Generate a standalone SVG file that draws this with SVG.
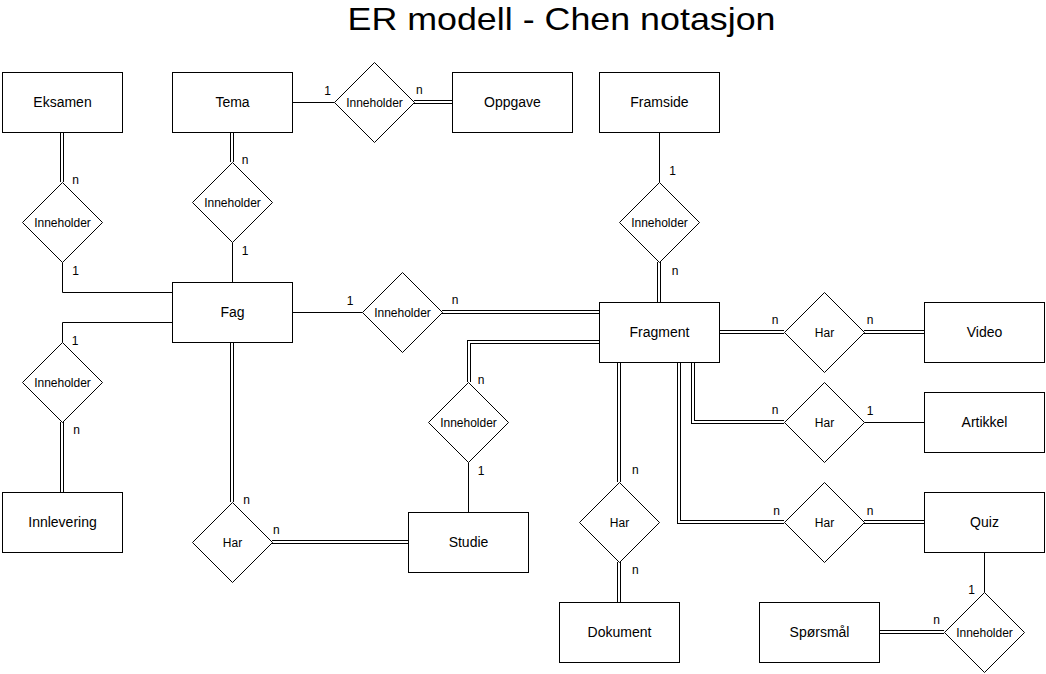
<svg xmlns="http://www.w3.org/2000/svg" width="1046" height="674" viewBox="0 0 1046 674">
<style>
  text { font-family: "Liberation Sans", Arial, Helvetica, sans-serif; fill: #000; }
  .ent rect { fill: #fff; stroke: #000; stroke-width: 1; }
  .rel polygon { fill: #fff; stroke: #000; stroke-width: 1; }
  .ent text { font-size: 14px; text-anchor: middle; }
  .rel text { font-size: 12px; text-anchor: middle; }
  .single { fill: none; stroke: #000; stroke-width: 1; }
  .dbl-o { fill: none; stroke: #000; stroke-width: 4; }
  .dbl-i { fill: none; stroke: #fff; stroke-width: 2; }
  .card { font-size: 12px; text-anchor: middle; }
  .title { font-size: 32px; text-anchor: middle; }
</style>
<rect x="0" y="0" width="1046" height="674" fill="#fff"/>
<text class="title" x="561.5" y="29.5" textLength="428" lengthAdjust="spacingAndGlyphs">ER modell - Chen notasjon</text>

<g id="connectors">
  <g id="single-lines">
    <path class="single" d="M62.5,262.5 V292.5 H172.5"/>
    <path class="single" d="M232.5,242.5 V282.5"/>
    <path class="single" d="M292.5,102.5 H334.5"/>
    <path class="single" d="M659.5,132.5 V182.5"/>
    <path class="single" d="M292.5,312.5 H362.5"/>
    <path class="single" d="M468.5,462.5 V512.5"/>
    <path class="single" d="M172.5,322.5 H62.5 V342.5"/>
    <path class="single" d="M864.5,422.5 H924.5"/>
    <path class="single" d="M984.5,552.5 V592.5"/>
  </g>
  <g id="double-lines">
    <path class="dbl-o" d="M62,132 V182"/><path class="dbl-i" d="M62,132 V182"/>
    <path class="dbl-o" d="M232,132 V162"/><path class="dbl-i" d="M232,132 V162"/>
    <path class="dbl-o" d="M414,102 H453"/><path class="dbl-i" d="M414,102 H453"/>
    <path class="dbl-o" d="M659,262 V303"/><path class="dbl-i" d="M659,262 V303"/>
    <path class="dbl-o" d="M442,312 H600"/><path class="dbl-i" d="M442,312 H600"/>
    <path class="dbl-o" d="M600,342 H469 V382"/><path class="dbl-i" d="M600,342 H469 V382"/>
    <path class="dbl-o" d="M232,342 V502"/><path class="dbl-i" d="M232,342 V502"/>
    <path class="dbl-o" d="M272,542 H409"/><path class="dbl-i" d="M272,542 H409"/>
    <path class="dbl-o" d="M62,422 V493"/><path class="dbl-i" d="M62,422 V493"/>
    <path class="dbl-o" d="M719,332 H784"/><path class="dbl-i" d="M719,332 H784"/>
    <path class="dbl-o" d="M864,332 H925"/><path class="dbl-i" d="M864,332 H925"/>
    <path class="dbl-o" d="M693,362 V422 H784"/><path class="dbl-i" d="M693,362 V422 H784"/>
    <path class="dbl-o" d="M679,362 V522 H784"/><path class="dbl-i" d="M679,362 V522 H784"/>
    <path class="dbl-o" d="M864,522 H925"/><path class="dbl-i" d="M864,522 H925"/>
    <path class="dbl-o" d="M619,362 V482"/><path class="dbl-i" d="M619,362 V482"/>
    <path class="dbl-o" d="M619,562 V603"/><path class="dbl-i" d="M619,562 V603"/>
    <path class="dbl-o" d="M879,632 H944"/><path class="dbl-i" d="M879,632 H944"/>
  </g>
  <g id="cardinalities">
    <text class="card" x="75.7" y="184">n</text>
    <text class="card" x="75.7" y="274.7">1</text>
    <text class="card" x="245" y="164">n</text>
    <text class="card" x="245" y="255">1</text>
    <text class="card" x="327.7" y="94.5">1</text>
    <text class="card" x="419.3" y="94">n</text>
    <text class="card" x="672.7" y="174.5">1</text>
    <text class="card" x="675" y="274.7">n</text>
    <text class="card" x="350" y="304.5">1</text>
    <text class="card" x="455" y="304">n</text>
    <text class="card" x="481" y="384">n</text>
    <text class="card" x="481" y="474.5">1</text>
    <text class="card" x="246.7" y="504">n</text>
    <text class="card" x="276.3" y="534">n</text>
    <text class="card" x="75" y="344.5">1</text>
    <text class="card" x="76.7" y="434">n</text>
    <text class="card" x="775" y="324">n</text>
    <text class="card" x="870" y="324">n</text>
    <text class="card" x="775" y="414">n</text>
    <text class="card" x="870" y="414.5">1</text>
    <text class="card" x="776.7" y="514.7">n</text>
    <text class="card" x="870" y="514.7">n</text>
    <text class="card" x="635.3" y="474">n</text>
    <text class="card" x="635.3" y="574">n</text>
    <text class="card" x="971.7" y="593.8">1</text>
    <text class="card" x="936.7" y="624">n</text>
  </g>
</g>

<g id="entities">
  <g id="eksamen" class="ent"><rect x="2.5" y="72.5" width="120" height="60"/><text x="62.5" y="106.5">Eksamen</text></g>
  <g id="tema" class="ent"><rect x="172.5" y="72.5" width="120" height="60"/><text x="232.5" y="106.5">Tema</text></g>
  <g id="oppgave" class="ent"><rect x="452.5" y="72.5" width="120" height="60"/><text x="512.5" y="106.5">Oppgave</text></g>
  <g id="framside" class="ent"><rect x="599.5" y="72.5" width="120" height="60"/><text x="659.5" y="106.5">Framside</text></g>
  <g id="fag" class="ent"><rect x="172.5" y="282.5" width="120" height="60"/><text x="232.5" y="316.5">Fag</text></g>
  <g id="fragment" class="ent"><rect x="599.5" y="302.5" width="120" height="60"/><text x="659.5" y="336.5">Fragment</text></g>
  <g id="video" class="ent"><rect x="924.5" y="302.5" width="120" height="60"/><text x="984.5" y="336.5">Video</text></g>
  <g id="artikkel" class="ent"><rect x="924.5" y="392.5" width="120" height="60"/><text x="984.5" y="426.5">Artikkel</text></g>
  <g id="quiz" class="ent"><rect x="924.5" y="492.5" width="120" height="60"/><text x="984.5" y="526.5">Quiz</text></g>
  <g id="innlevering" class="ent"><rect x="2.5" y="492.5" width="120" height="60"/><text x="62.5" y="526.5">Innlevering</text></g>
  <g id="studie" class="ent"><rect x="408.5" y="512.5" width="120" height="60"/><text x="468.5" y="546.5">Studie</text></g>
  <g id="dokument" class="ent"><rect x="559.5" y="602.5" width="120" height="60"/><text x="619.5" y="636.5">Dokument</text></g>
  <g id="sporsmal" class="ent"><rect x="759.5" y="602.5" width="120" height="60"/><text x="819.5" y="636.5">Spørsmål</text></g>
</g>

<g id="relations">
  <g id="rel-eksamen-fag" class="rel"><polygon points="62.5,182.5 102.5,222.5 62.5,262.5 22.5,222.5"/><text x="62.5" y="226.5">Inneholder</text></g>
  <g id="rel-tema-fag" class="rel"><polygon points="232.5,162.5 272.5,202.5 232.5,242.5 192.5,202.5"/><text x="232.5" y="206.5">Inneholder</text></g>
  <g id="rel-tema-oppgave" class="rel"><polygon points="374.5,62.5 414.5,102.5 374.5,142.5 334.5,102.5"/><text x="374.5" y="106.5">Inneholder</text></g>
  <g id="rel-framside-fragment" class="rel"><polygon points="659.5,182.5 699.5,222.5 659.5,262.5 619.5,222.5"/><text x="659.5" y="226.5">Inneholder</text></g>
  <g id="rel-fag-fragment" class="rel"><polygon points="402.5,272.5 442.5,312.5 402.5,352.5 362.5,312.5"/><text x="402.5" y="316.5">Inneholder</text></g>
  <g id="rel-studie-fragment" class="rel"><polygon points="468.5,382.5 508.5,422.5 468.5,462.5 428.5,422.5"/><text x="468.5" y="426.5">Inneholder</text></g>
  <g id="rel-fag-innlevering" class="rel"><polygon points="62.5,342.5 102.5,382.5 62.5,422.5 22.5,382.5"/><text x="62.5" y="386.5">Inneholder</text></g>
  <g id="rel-fag-studie" class="rel"><polygon points="232.5,502.5 272.5,542.5 232.5,582.5 192.5,542.5"/><text x="232.5" y="546.5">Har</text></g>
  <g id="rel-fragment-video" class="rel"><polygon points="824.5,292.5 864.5,332.5 824.5,372.5 784.5,332.5"/><text x="824.5" y="336.5">Har</text></g>
  <g id="rel-fragment-artikkel" class="rel"><polygon points="824.5,382.5 864.5,422.5 824.5,462.5 784.5,422.5"/><text x="824.5" y="426.5">Har</text></g>
  <g id="rel-fragment-quiz" class="rel"><polygon points="824.5,482.5 864.5,522.5 824.5,562.5 784.5,522.5"/><text x="824.5" y="526.5">Har</text></g>
  <g id="rel-fragment-dokument" class="rel"><polygon points="619.5,482.5 659.5,522.5 619.5,562.5 579.5,522.5"/><text x="619.5" y="526.5">Har</text></g>
  <g id="rel-quiz-sporsmal" class="rel"><polygon points="984.5,592.5 1024.5,632.5 984.5,672.5 944.5,632.5"/><text x="984.5" y="636.5">Inneholder</text></g>
</g>
</svg>
